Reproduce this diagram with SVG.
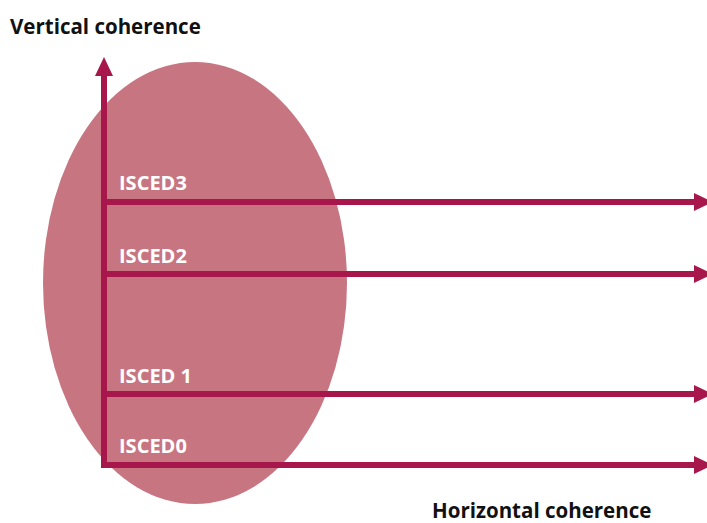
<svg xmlns="http://www.w3.org/2000/svg" width="707" height="523" viewBox="0 0 707 523">
<defs>
<style>
.ax{stroke:#A8174C;stroke-width:6;fill:none}
.lvl{font-family:"Open Sans","Noto Sans",sans-serif;font-weight:bold;font-size:20px;fill:#ffffff}
.ttl{font-family:"Open Sans","Noto Sans",sans-serif;font-weight:bold;font-size:20.5px;fill:#111111}
.hd{fill:#A8174C}
</style>
</defs>
<rect width="707" height="523" fill="#ffffff"/>
<g id="ellipse"><ellipse cx="195" cy="283" rx="152" ry="221" fill="#C87582"/></g>
<g id="connectors">
<line class="ax" x1="104" y1="72" x2="104" y2="468"/>
<polygon class="hd" points="104,57 113,76 95,76"/>
<line class="ax" x1="101" y1="202" x2="697" y2="202"/>
<polygon class="hd" points="713,202 694,193 694,211"/>
<line class="ax" x1="101" y1="274" x2="697" y2="274"/>
<polygon class="hd" points="713,274 694,265 694,283"/>
<line class="ax" x1="101" y1="394" x2="697" y2="394"/>
<polygon class="hd" points="713,394 694,385 694,403"/>
<line class="ax" x1="101" y1="465" x2="697" y2="465"/>
<polygon class="hd" points="713,465 694,456 694,474"/>
</g>
<g id="isced3"><text class="lvl" x="119" y="190">ISCED3</text></g>
<g id="isced2"><text class="lvl" x="119" y="263">ISCED2</text></g>
<g id="isced1"><text class="lvl" x="119" y="383">ISCED 1</text></g>
<g id="isced0"><text class="lvl" x="119" y="453">ISCED0</text></g>
<g id="vertical"><text class="ttl" x="10" y="34">Vertical coherence</text></g>
<g id="horizontal"><text class="ttl" x="432" y="518">Horizontal coherence</text></g>
</svg>
